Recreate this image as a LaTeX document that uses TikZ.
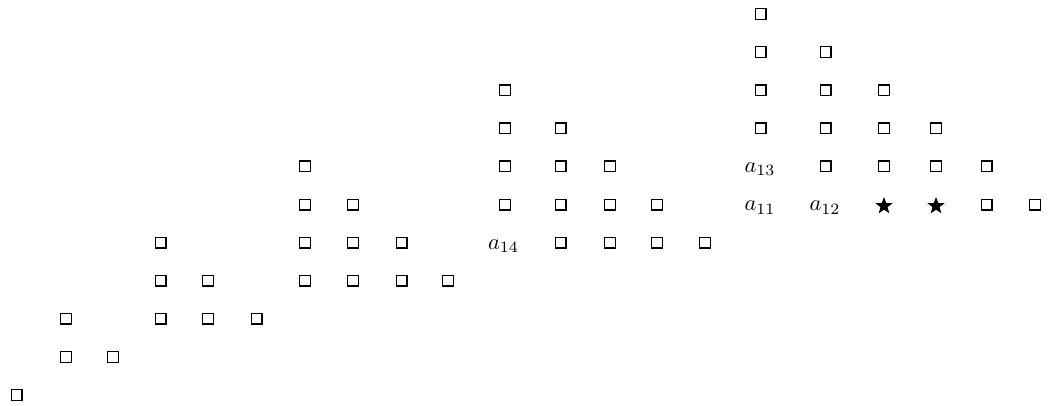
\documentclass[tikz,border=0pt]{standalone}
\usepackage{tikz}
\usetikzlibrary{shapes.geometric}

\begin{document}
\begin{tikzpicture}[
  x=1pt, y=-1pt,
  cell/.style={draw, line width=1.4pt, minimum size=10.6pt, inner sep=0pt},
  lab/.style={scale=2.25, inner sep=0pt, anchor=base},
  starcell/.style={star, star points=5, star point ratio=2.4, fill=black,
    inner sep=0pt, minimum size=18pt}
]
  \useasboundingbox (0,0) rectangle (1051,406);

  % columns of empty cells: x position / rows from the bottom
  \foreach \x/\rows [count=\c] in {16.7/{0},
      66/{1,2}, 113/{1},
      160.7/{2,3,4}, 208/{2,3}, 256.7/{2},
      305/{3,4,5,6}, 353/{3,4,5}, 401.7/{3,4}, 448/{3},
      505/{5,6,7,8}, 560.7/{4,5,6,7}, 610/{4,5,6}, 657/{4,5}, 705/{4},
      760.7/{7,8,9,10}, 825.7/{6,7,8,9}, 884/{6,7,8}, 936/{6,7},
      986.7/{5,6}, 1035/{5}} {
    \foreach \r in \rows {
      \node[cell] (q\c-\r) at (\x, {395-38.1*\r}) {};
    }
  }

  % filled entries
  \node[lab] (a14) at (503.5, 249) {$a_{14}$};
  \node[lab] (a13) at (760, 172) {$a_{13}$};
  \node[lab] (a11) at (760, 211) {$a_{11}$};
  \node[lab] (a12) at (825, 211) {$a_{12}$};
  \node[starcell] (s1) at (884, 206) {};
  \node[starcell] (s2) at (936, 206) {};
\end{tikzpicture}
\end{document}
